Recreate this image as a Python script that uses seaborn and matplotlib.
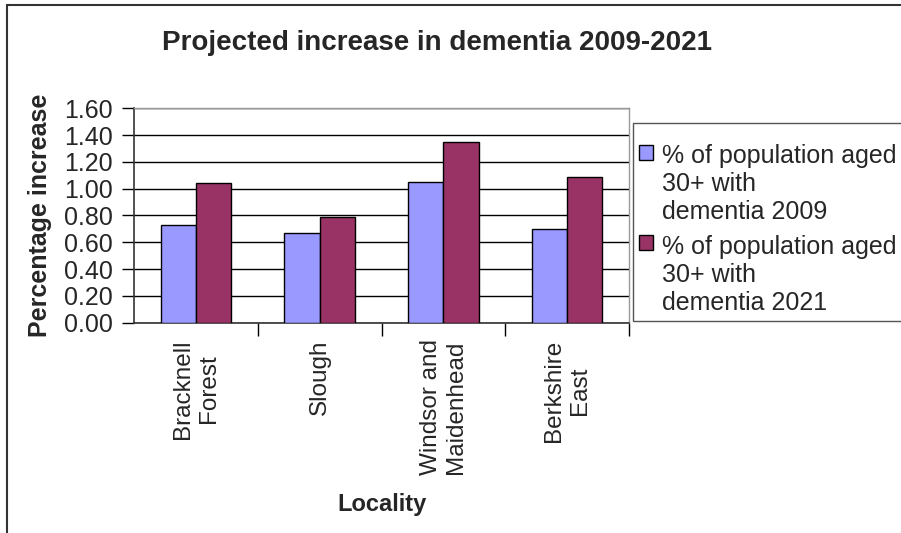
import pandas as pd
import matplotlib.pyplot as plt
import seaborn as sns
from matplotlib.patches import Rectangle

# Chart data
localities = ['Bracknell\nForest', 'Slough', 'Windsor and\nMaidenhead', 'Berkshire\nEast']
series_names = ['% of population aged\n30+ with\ndementia 2009',
                '% of population aged\n30+ with\ndementia 2021']
pct_2009 = [0.73, 0.67, 1.05, 0.70]
pct_2021 = [1.04, 0.79, 1.35, 1.09]
y_ticks = [0.0, 0.2, 0.4, 0.6, 0.8, 1.0, 1.2, 1.4, 1.6]

df = pd.DataFrame({
    'Locality': localities * 2,
    'Series': [series_names[0]] * 4 + [series_names[1]] * 4,
    'Value': pct_2009 + pct_2021,
})

sns.set_style('white')
plt.rcParams['font.family'] = ['Liberation Sans', 'DejaVu Sans']

fig = plt.figure(figsize=(9.01, 5.33), dpi=100)
ax = fig.add_axes([134 / 901, 1 - 322.7 / 533, (629 - 134) / 901, (322.7 - 108.3) / 533])

sns.barplot(data=df, x='Locality', y='Value', hue='Series',
            palette=['#9999FF', '#993366'], width=0.57, gap=0,
            edgecolor='black', linewidth=1, saturation=1, ax=ax, zorder=3)

ax.set_ylim(0, 1.6)
ax.set_xlim(-0.5, 3.5)
ax.set_yticks(y_ticks)
ax.set_yticklabels([f'{v:.2f}' for v in y_ticks], fontsize=18)
ax.yaxis.grid(True, color='black', linewidth=1)
ax.set_axisbelow(True)

# category labels at centres, tick marks between categories
ax.set_xticks(range(4))
ax.set_xticklabels(localities, rotation=90, fontsize=17.5, ha='center', va='top',
                   multialignment='center')
ax.set_xticks([0.5, 1.5, 2.5, 3.5], minor=True)
ax.tick_params(axis='x', which='major', length=0, pad=12)
ax.tick_params(axis='x', which='minor', length=9, width=1, color='black', direction='out', bottom=True)
ax.tick_params(axis='y', length=9, width=1, color='black', direction='out', left=True, pad=6)

for side in ['left', 'bottom']:
    ax.spines[side].set_color('#333333')
    ax.spines[side].set_linewidth(1.2)
for side in ['top', 'right']:
    ax.spines[side].set_color('#999999')
    ax.spines[side].set_linewidth(1)

ax.set_xlabel('Locality', fontsize=17, fontweight='bold', labelpad=13)
ax.set_ylabel('Percentage increase', fontsize=18, fontweight='bold', labelpad=9)

fig.text(437 / 901, 1 - 43 / 533, 'Projected increase in dementia 2009-2021',
         fontsize=20, fontweight='bold', ha='center', va='center')

handles, labels = ax.get_legend_handles_labels()
leg = ax.legend(handles, labels, loc='upper left', title=' ', title_fontsize=2,
                bbox_to_anchor=(633 / 901, 1 - 123 / 533), bbox_transform=fig.transFigure,
                fontsize=18, frameon=True, fancybox=False, framealpha=1,
                edgecolor='#555555', handlelength=0.55, handleheight=0.55,
                handletextpad=0.35, borderpad=0.25, labelspacing=0.45, borderaxespad=0)
leg.get_frame().set_linewidth(1)
# put each swatch beside the first line of its label
for column in leg._legend_handle_box.get_children():
    for row in column.get_children():
        row.align = 'top'

# outer chart border
fig.patches.append(Rectangle((7 / 901, -0.1), 1.2, 1 - 5 / 533 + 0.1,
                             transform=fig.transFigure, fill=False,
                             edgecolor='#333333', linewidth=1.5))

fig.savefig('out.png', dpi=100)
